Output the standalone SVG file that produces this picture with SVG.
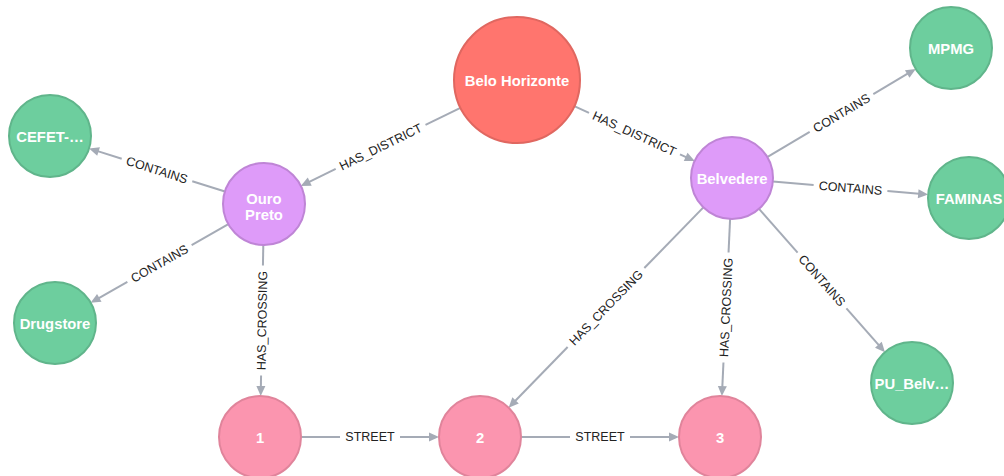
<svg xmlns="http://www.w3.org/2000/svg" width="1004" height="476" viewBox="0 0 1004 476">
  <style>
    .bg { fill: #ffffff; }
    .rel line { stroke: #a5abb6; stroke-width: 2; }
    .rel path { fill: #a5abb6; }
    .rel text { font-family: "Liberation Sans", Arial, sans-serif; font-size: 12.5px; fill: #222222; text-anchor: middle; }
    .node circle { stroke-width: 2; }
    .node text { font-family: "Liberation Sans", Arial, sans-serif; font-size: 14.8px; font-weight: bold; fill: #ffffff; text-anchor: middle; }
    .city circle { fill: #ff756e; stroke: #e06760; }
    .district circle { fill: #de9bf9; stroke: #bf85d6; }
    .place circle { fill: #6dce9e; stroke: #60b58b; }
    .crossing circle { fill: #fb95af; stroke: #e0849b; }
  </style>
  <rect class="bg" x="0" y="0" width="1004" height="476"/>

  <!-- Relationships: each drawn in its own frame, x axis running source -> target -->
  <g id="connectors">
    <g id="rel-bh-ouro" class="rel" transform="translate(380.6 146.9) rotate(153.9)">
      <line x1="-88.9" y1="0" x2="-50" y2="0"/>
      <line x1="50" y1="0" x2="80" y2="0"/>
      <path d="M88.9 0 L78.9 -4.5 L78.9 4.5 Z"/>
      <text transform="rotate(180)" dy="0.35em">HAS_DISTRICT</text>
    </g>
    <g id="rel-bh-belvedere" class="rel" transform="translate(634.5 133.6) rotate(24.5)">
      <line x1="-66.2" y1="0" x2="-50" y2="0"/>
      <line x1="50" y1="0" x2="57.2" y2="0"/>
      <path d="M66.2 0 L56.2 -4.5 L56.2 4.5 Z"/>
      <text dy="0.35em">HAS_DISTRICT</text>
    </g>
    <g id="rel-ouro-cefet" class="rel" transform="translate(157 170) rotate(-162.4)">
      <line x1="-71.3" y1="0" x2="-37" y2="0"/>
      <line x1="37" y1="0" x2="62.3" y2="0"/>
      <path d="M71.3 0 L61.3 -4.5 L61.3 4.5 Z"/>
      <text transform="rotate(180)" dy="0.35em">CONTAINS</text>
    </g>
    <g id="rel-ouro-drugstore" class="rel" transform="translate(159.5 263.5) rotate(150.3)">
      <line x1="-79.3" y1="0" x2="-37" y2="0"/>
      <line x1="37" y1="0" x2="70.3" y2="0"/>
      <path d="M79.3 0 L69.3 -4.5 L69.3 4.5 Z"/>
      <text transform="rotate(180)" dy="0.35em">CONTAINS</text>
    </g>
    <g id="rel-ouro-1" class="rel" transform="translate(262 320.5) rotate(90.98)">
      <line x1="-75.5" y1="0" x2="-55" y2="0"/>
      <line x1="55" y1="0" x2="66.5" y2="0"/>
      <path d="M75.5 0 L65.5 -4.5 L65.5 4.5 Z"/>
      <text transform="rotate(180)" dy="0.35em">HAS_CROSSING</text>
    </g>
    <g id="rel-belvedere-mpmg" class="rel" transform="translate(841.5 113) rotate(-30.7)">
      <line x1="-86.4" y1="0" x2="-37" y2="0"/>
      <line x1="37" y1="0" x2="77.4" y2="0"/>
      <path d="M86.4 0 L76.4 -4.5 L76.4 4.5 Z"/>
      <text dy="0.35em">CONTAINS</text>
    </g>
    <g id="rel-belvedere-faminas" class="rel" transform="translate(850.5 188) rotate(4.8)">
      <line x1="-77.9" y1="0" x2="-37" y2="0"/>
      <line x1="37" y1="0" x2="68.9" y2="0"/>
      <path d="M77.9 0 L67.9 -4.5 L67.9 4.5 Z"/>
      <text dy="0.35em">CONTAINS</text>
    </g>
    <g id="rel-belvedere-pu" class="rel" transform="translate(822 280.5) rotate(48.7)">
      <line x1="-95.4" y1="0" x2="-37" y2="0"/>
      <line x1="37" y1="0" x2="86.4" y2="0"/>
      <path d="M95.4 0 L85.4 -4.5 L85.4 4.5 Z"/>
      <text dy="0.35em">CONTAINS</text>
    </g>
    <g id="rel-belvedere-2" class="rel" transform="translate(606 307.5) rotate(134.2)">
      <line x1="-139.7" y1="0" x2="-55" y2="0"/>
      <line x1="55" y1="0" x2="130.7" y2="0"/>
      <path d="M139.7 0 L129.7 -4.5 L129.7 4.5 Z"/>
      <text transform="rotate(180)" dy="0.35em">HAS_CROSSING</text>
    </g>
    <g id="rel-belvedere-3" class="rel" transform="translate(726 307.5) rotate(92.65)">
      <line x1="-88.7" y1="0" x2="-55" y2="0"/>
      <line x1="55" y1="0" x2="79.7" y2="0"/>
      <path d="M88.7 0 L78.7 -4.5 L78.7 4.5 Z"/>
      <text transform="rotate(180)" dy="0.35em">HAS_CROSSING</text>
    </g>
    <g id="rel-1-2" class="rel" transform="translate(370 437)">
      <line x1="-69" y1="0" x2="-30" y2="0"/>
      <line x1="30" y1="0" x2="60" y2="0"/>
      <path d="M69 0 L59 -4.5 L59 4.5 Z"/>
      <text dy="0.35em">STREET</text>
    </g>
    <g id="rel-2-3" class="rel" transform="translate(600 437)">
      <line x1="-79" y1="0" x2="-30" y2="0"/>
      <line x1="30" y1="0" x2="70" y2="0"/>
      <path d="M79 0 L69 -4.5 L69 4.5 Z"/>
      <text dy="0.35em">STREET</text>
    </g>
  </g>

  <!-- Nodes -->
  <g id="node-belo-horizonte" class="node city">
    <circle cx="517" cy="80" r="63"/>
    <text x="517" y="85.5">Belo Horizonte</text>
  </g>
  <g id="node-ouro-preto" class="node district">
    <circle cx="264" cy="204" r="41"/>
    <text x="264" y="203.5">Ouro</text>
    <text x="264" y="220">Preto</text>
  </g>
  <g id="node-belvedere" class="node district">
    <circle cx="732" cy="178" r="41"/>
    <text x="732" y="184">Belvedere</text>
  </g>
  <g id="node-cefet" class="node place">
    <circle cx="50" cy="136" r="41"/>
    <text x="50" y="141.5">CEFET-…</text>
  </g>
  <g id="node-drugstore" class="node place">
    <circle cx="55" cy="323" r="41"/>
    <text x="55" y="328.5">Drugstore</text>
  </g>
  <g id="node-mpmg" class="node place">
    <circle cx="951" cy="48" r="41"/>
    <text x="951" y="53.5">MPMG</text>
  </g>
  <g id="node-faminas" class="node place">
    <circle cx="969" cy="198" r="41"/>
    <text x="969" y="203.5">FAMINAS</text>
  </g>
  <g id="node-pu-belv" class="node place">
    <circle cx="912" cy="383" r="41"/>
    <text x="912" y="388.5">PU_Belv…</text>
  </g>
  <g id="node-crossing-1" class="node crossing">
    <circle cx="260" cy="437" r="41"/>
    <text x="260" y="442.5">1</text>
  </g>
  <g id="node-crossing-2" class="node crossing">
    <circle cx="480" cy="437" r="41"/>
    <text x="480" y="442.5">2</text>
  </g>
  <g id="node-crossing-3" class="node crossing">
    <circle cx="720" cy="437" r="41"/>
    <text x="720" y="442.5">3</text>
  </g>
</svg>
